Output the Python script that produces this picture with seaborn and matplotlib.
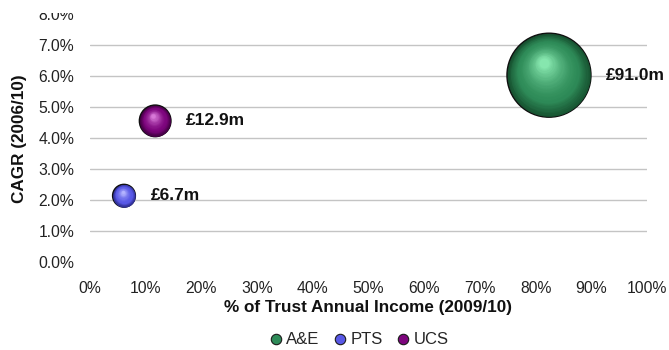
import matplotlib
matplotlib.use("Agg")
import matplotlib.pyplot as plt
from matplotlib.lines import Line2D
from matplotlib.patches import Rectangle
from matplotlib import transforms
from matplotlib.colors import to_rgb
import numpy as np
import seaborn as sns
import pandas as pd

services = ["A&E", "PTS", "UCS"]
income_share = [82.4, 6.1, 11.7]      # % of Trust Annual Income (2009/10)
cagr = [6.03, 2.15, 4.56]             # CAGR (2006/10), %
value_m = [91.0, 6.7, 12.9]           # £m
labels = ["£91.0m", "£6.7m", "£12.9m"]
x_ticks = list(range(0, 101, 10))
y_ticks = list(range(0, 9))

colors = {"A&E": "#2e8b58", "PTS": "#5858e6", "UCS": "#7d057d"}
darks = {"A&E": "#16502f", "PTS": "#2b2b8a", "UCS": "#3f003f"}
lights = {"A&E": "#86e6ae", "PTS": "#b4b4ff", "UCS": "#d878d8"}

df = pd.DataFrame({"service": services, "share": income_share,
                   "cagr": cagr, "value": value_m, "label": labels})

sns.set_theme(style="white")
plt.rcParams["font.family"] = ["Liberation Sans", "DejaVu Sans"]

fig = plt.figure(figsize=(6.69, 3.5), dpi=100)
ax = fig.add_axes([90/669, 1-262.5/350, (647-90)/669, (262.5-14)/350])

k = 40.2
sns.scatterplot(data=df, x="share", y="cagr", hue="service", palette=darks,
                size="value", sizes=(min(value_m)*k, max(value_m)*k),
                edgecolor="#101010", linewidth=1.0, legend=False, ax=ax, zorder=3)


def mix(c1, c2, t):
    a, b = np.array(to_rgb(c1)), np.array(to_rgb(c2))
    return tuple(a + (b - a) * t)


# spherical shading layers
for _, r in df.iterrows():
    s0 = r["value"] * k
    R = s0 ** 0.5 / 2
    svc = r["service"]
    for t in np.linspace(0.02, 1.0, 30):
        f = 1 - 0.88 * t
        if t < 0.3:
            col = mix(darks[svc], colors[svc], t / 0.3)
        else:
            col = mix(colors[svc], lights[svc], ((t - 0.3) / 0.7) ** 1.6)
        tr = transforms.offset_copy(ax.transData, fig=fig, x=-0.12 * R * t,
                                    y=0.30 * R * t, units="points")
        ax.scatter([r["share"]], [r["cagr"]], s=s0 * f * f, color=[col],
                   linewidths=0, transform=tr, zorder=3.1 + t)

for _, r in df.iterrows():
    rad_pt = (r["value"] * k) ** 0.5 / 2
    ax.annotate(r["label"], (r["share"], r["cagr"]), xytext=(rad_pt + 11, 0),
                textcoords="offset points", ha="left", va="center",
                fontsize=12.5, fontweight="bold", color="#111111", zorder=6)

ax.set_xlim(0, 100)
ax.set_ylim(0, 8)
ax.set_xticks(x_ticks)
ax.set_xticklabels([f"{t}%" for t in x_ticks])
ax.set_yticks(y_ticks)
ax.set_yticklabels([f"{t:.1f}%" for t in y_ticks])
for t in y_ticks[1:8]:
    ax.axhline(t, color="#c4c4c4", linewidth=1.0, zorder=1)
ax.grid(False)
for s in ax.spines.values():
    s.set_visible(False)
ax.tick_params(axis="both", length=0, labelsize=11.3, colors="#222222")
ax.tick_params(axis="y", pad=11.5)
ax.tick_params(axis="x", pad=13)
ax.set_xlabel("% of Trust Annual Income (2009/10)", fontsize=12.3,
              fontweight="bold", labelpad=3, color="#111111")
ax.set_ylabel("CAGR (2006/10)", fontsize=12.3, fontweight="bold",
              labelpad=8, color="#111111")

handles = [Line2D([], [], marker="o", linestyle="", markersize=7.5,
                  markerfacecolor=colors[s], markeredgecolor="#1a1a1a",
                  markeredgewidth=0.8, label=s) for s in services]
fig.legend(handles=handles, loc="center", bbox_to_anchor=(358/669, 1-340/350),
           ncol=3, frameon=False, fontsize=12, handletextpad=0.12,
           columnspacing=0.75, handlelength=1.0, borderaxespad=0)

fig.patches.append(Rectangle((0, 1-12.5/350), 1, 12.5/350, transform=fig.transFigure,
                             facecolor="white", edgecolor="none", zorder=10))

fig.savefig("out.png", dpi=100)
